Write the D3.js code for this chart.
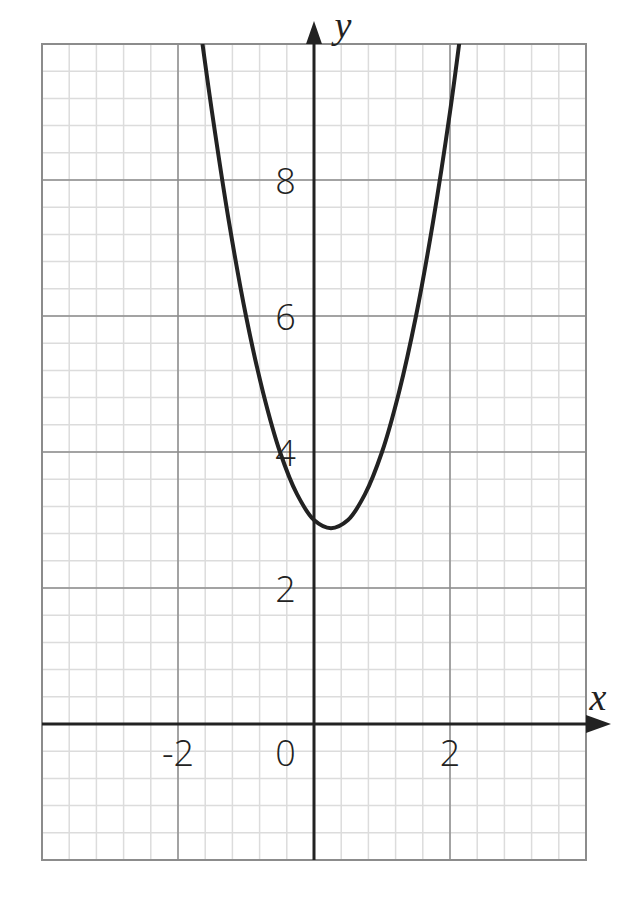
<!DOCTYPE html>
<html>
<head>
<meta charset="utf-8">
<script src="https://cdn.jsdelivr.net/npm/d3@7"></script>
<style>
  body { margin: 0; background: #fff; }
</style>
</head>
<body>
<svg id="chart" width="630" height="899"></svg>
<script>
// points
const curveX = [-1.64, -1.5, -1.25, -1, -0.75, -0.5, -0.25, 0, 0.25, 0.5, 0.75, 1, 1.25, 1.5, 1.75, 2, 2.16]
const curveY = [10, 9, 7.38, 6, 4.88, 4, 3.38, 3, 2.88, 3, 3.38, 4, 4.88, 6, 7.38, 9, 10.2]

const xTicks = [-2, 0, 2]
const yTicks = [2, 4, 6, 8]

const svg = d3.select('#chart')
const x = d3.scaleLinear().domain([-4, 4]).range([42, 586])
const y = d3.scaleLinear().domain([-2, 10]).range([860, 44])

// clip the curve to the grid box
svg.append('clipPath').attr('id', 'box')
	.append('rect')
	.attr('x', x(-4)).attr('y', y(10))
	.attr('width', x(4) - x(-4)).attr('height', y(-2) - y(10))

const minorX = d3.range(-4, 4.001, 0.4).map((v) => +v.toFixed(1))
const minorY = d3.range(-2, 10.001, 0.4).map((v) => +v.toFixed(1))
const majorX = d3.range(-4, 4.001, 2)
const majorY = d3.range(-2, 10.001, 2)

// minor grid
svg.selectAll('.mx').data(minorX).join('line')
	.attr('x1', (d) => x(d)).attr('x2', (d) => x(d))
	.attr('y1', y(-2)).attr('y2', y(10))
	.style('stroke', '#dcdcdc').style('stroke-width', 1.5)
svg.selectAll('.my').data(minorY).join('line')
	.attr('y1', (d) => y(d)).attr('y2', (d) => y(d))
	.attr('x1', x(-4)).attr('x2', x(4))
	.style('stroke', '#dcdcdc').style('stroke-width', 1.5)

// major grid
svg.selectAll('.Mx').data(majorX).join('line')
	.attr('x1', (d) => x(d)).attr('x2', (d) => x(d))
	.attr('y1', y(-2)).attr('y2', y(10))
	.style('stroke', '#8c8c8c').style('stroke-width', 1.5)
svg.selectAll('.My').data(majorY).join('line')
	.attr('y1', (d) => y(d)).attr('y2', (d) => y(d))
	.attr('x1', x(-4)).attr('x2', x(4))
	.style('stroke', '#8c8c8c').style('stroke-width', 1.5)

// border
svg.append('rect')
	.attr('x', x(-4)).attr('y', y(10))
	.attr('width', x(4) - x(-4)).attr('height', y(-2) - y(10))
	.style('fill', 'none').style('stroke', '#8c8c8c').style('stroke-width', 2)

// tick labels
const labelStyle = (sel) => sel
	.style('font-family', '"Open Sans", "Noto Sans", sans-serif')
	.style('font-size', '36px')
	.style('font-weight', 300)
	.style('fill', '#222')

svg.selectAll('.xl').data(xTicks).join('text')
	.attr('x', (d) => (d === 0 ? x(-0.42) : x(d)))
	.attr('y', y(-0.42))
	.attr('text-anchor', 'middle')
	.attr('dominant-baseline', 'central')
	.text((d) => d)
	.call(labelStyle)

svg.selectAll('.yl').data(yTicks).join('text')
	.attr('x', x(-0.42))
	.attr('y', (d) => y(d))
	.attr('text-anchor', 'middle')
	.attr('dominant-baseline', 'central')
	.text((d) => d)
	.call(labelStyle)

// axes
svg.append('line')
	.attr('x1', x(-4)).attr('x2', x(4))
	.attr('y1', y(0)).attr('y2', y(0))
	.style('stroke', '#222').style('stroke-width', 3)
svg.append('line')
	.attr('x1', x(0)).attr('x2', x(0))
	.attr('y1', y(-2)).attr('y2', y(10))
	.style('stroke', '#222').style('stroke-width', 3)

// arrow heads
svg.append('path')
	.attr('d', `M${x(4)},${y(0) - 9}L${x(4) + 25},${y(0)}L${x(4)},${y(0) + 9}Z`)
	.style('fill', '#222')
svg.append('path')
	.attr('d', `M${x(0) - 8},${y(10)}L${x(0)},${y(10) - 23}L${x(0) + 8},${y(10)}Z`)
	.style('fill', '#222')

// axis names
svg.append('text')
	.attr('x', 598).attr('y', 710)
	.attr('text-anchor', 'middle')
	.style('font-family', '"Liberation Serif", "DejaVu Serif", serif')
	.style('font-style', 'italic')
	.style('font-size', '38px')
	.style('fill', '#222')
	.text('x')
svg.append('text')
	.attr('x', 343).attr('y', 38)
	.attr('text-anchor', 'middle')
	.style('font-family', '"Liberation Serif", "DejaVu Serif", serif')
	.style('font-style', 'italic')
	.style('font-size', '38px')
	.style('fill', '#222')
	.text('y')

// the curve
const pts = curveX.map((v, i) => [v, curveY[i]])
svg.append('path')
	.datum(pts)
	.attr('clip-path', 'url(#box)')
	.attr('d', d3.line().x((d) => x(d[0])).y((d) => y(d[1])).curve(d3.curveCatmullRom))
	.style('fill', 'none')
	.style('stroke', '#222')
	.style('stroke-width', 4)
</script>
</body>
</html>
